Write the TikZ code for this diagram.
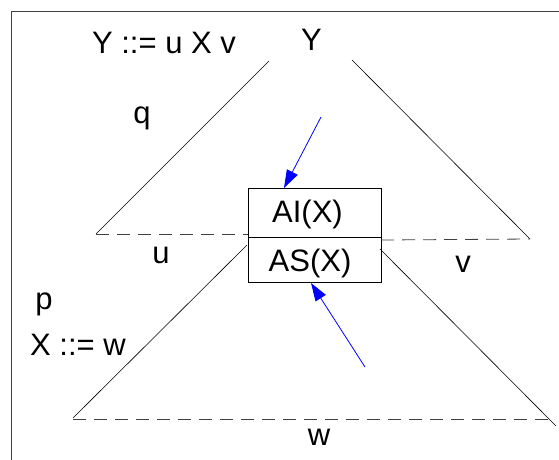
\documentclass[tikz,border=0pt]{standalone}
\usepackage{fontspec}
\setmainfont{Liberation Sans}
\usetikzlibrary{arrows.meta}
\begin{document}
\begin{tikzpicture}[x=1pt,y=-1pt,
  lbl/.style={inner sep=0pt, anchor=base, font=\fontsize{31}{37}\selectfont},
  boxnode/.style={draw=black, line width=0.9pt, minimum width=133pt, inner sep=0pt, anchor=north west},
  edge/.style={black, line width=0.6pt},
  dashline/.style={black!75, line width=0.8pt, dash pattern=on 13pt off 8pt},
  arr/.style={blue, line width=0.8pt, -{Triangle[length=18pt,width=12pt]}}]
\useasboundingbox (0,0) rectangle (559,459);
\clip (0,0) rectangle (559,459);
\draw[black!75, line width=0.9pt] (11,11) rectangle (620,520);
% texts
\node[lbl] (prodY) at (164,53) {Y ::= u X v};
\node[lbl] (rootY) at (311.5,50) {Y};
\node[lbl] (q) at (142,123) {q};
\node[lbl] (u) at (161,263) {u};
\node[lbl] (v) at (463,272) {v};
\node[lbl] (p) at (44,309) {p};
\node[lbl] (prodX) at (78,355) {X ::= w};
\node[lbl] (w) at (319,445) {w};
% box
\node[boxnode, minimum height=49pt] (ai) at (248,188) {};
\node[boxnode, minimum height=45pt] (as) at (248,237) {};
\node[lbl] (ait) at (307.5,222.5) {AI(X)};
\node[lbl] (ast) at (310,271) {AS(X)};
% upper tree
\coordinate (ul1) at (269,61);
\coordinate (ul2) at (96,234);
\coordinate (ur1) at (352,60);
\coordinate (ur2) at (530,239);
\coordinate (ud1) at (248,234);
\coordinate (ud2) at (381,240);
\draw[edge] (ul1) -- (ul2);
\draw[edge] (ur1) -- (ur2);
\draw[dashline] (ul2) -- (ud1);
\draw[dashline] (ud2) -- (ur2);
% lower tree
\coordinate (ll1) at (247,245);
\coordinate (ll2) at (73,418);
\coordinate (lr1) at (380,249);
\coordinate (lr2) at (556,426);
\coordinate (ld2) at (552,419);
\draw[edge] (ll1) -- (ll2);
\draw[edge] (lr1) -- (lr2);
\draw[dashline] (73,419) -- (ld2);
% arrows
\coordinate (a1s) at (321,117);
\coordinate (a1t) at (284,188);
\coordinate (a2s) at (365,367);
\coordinate (a2t) at (311,283);
\draw[arr] (a1s) -- (a1t);
\draw[arr] (a2s) -- (a2t);
\end{tikzpicture}
\end{document}
